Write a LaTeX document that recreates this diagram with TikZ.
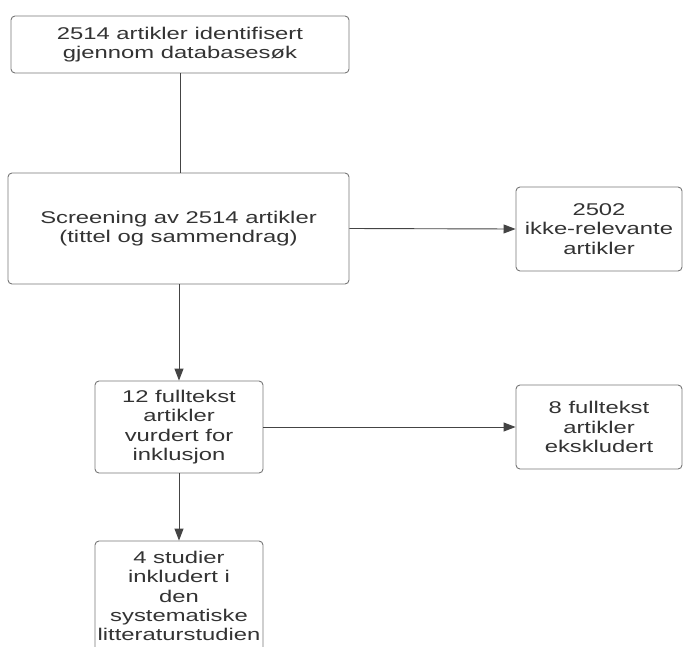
\documentclass[tikz,border=0pt]{standalone}
\usepackage{fontspec}
\setmainfont[FakeStretch=1.4]{Liberation Sans}
\usetikzlibrary{arrows.meta}
\definecolor{boxline}{HTML}{777777}
\definecolor{conn}{HTML}{444444}
\definecolor{txt}{HTML}{333333}
\begin{document}
\begin{tikzpicture}[x=1pt,y=-1pt,
  box/.style={draw=boxline,line width=0.9pt,rounded corners=4pt,fill=white,
    align=center,text=txt,inner sep=0pt,
    font=\fontsize{17}{19.3}\selectfont},
  link/.style={draw=conn,line width=0.9pt},
  arr/.style={link,-{Triangle[length=12pt,width=9pt]}}]
\useasboundingbox (0,0) rectangle (683,646);
\clip (0,0) rectangle (683,646);
\node[box,minimum width=338pt,minimum height=57pt] (b1) at (180,44.5)
  {2514 artikler identifisert\\gjennom databasesøk};
\node[box,minimum width=341pt,minimum height=111pt] (b2) at (178.5,228.5)
  {Screening av 2514 artikler\\(tittel og sammendrag)};
\node[box,minimum width=166pt,minimum height=84pt] (b3) at (599,229)
  {2502\\ikke-relevante\\artikler};
\node[box,minimum width=168pt,minimum height=92pt] (b4) at (179,427)
  {12 fulltekst\\artikler\\vurdert for\\inklusjon};
\node[box,minimum width=166pt,minimum height=84pt] (b5) at (599,427)
  {8 fulltekst\\artikler\\ekskludert};
\node[box,minimum width=168pt,minimum height=110pt] (b6) at (179,596)
  {4 studier\\inkludert i\\den\\systematiske\\litteraturstudien};
\draw[link] (b1.south) -- (b1.south |- b2.north);
\draw[arr] (b2.east) -- (b3.west);
\draw[arr] (b4.north |- b2.south) -- (b4.north);
\draw[arr] (b4.east) -- (b5.west);
\draw[arr] (b4.south) -- (b6.north);
\end{tikzpicture}
\end{document}
